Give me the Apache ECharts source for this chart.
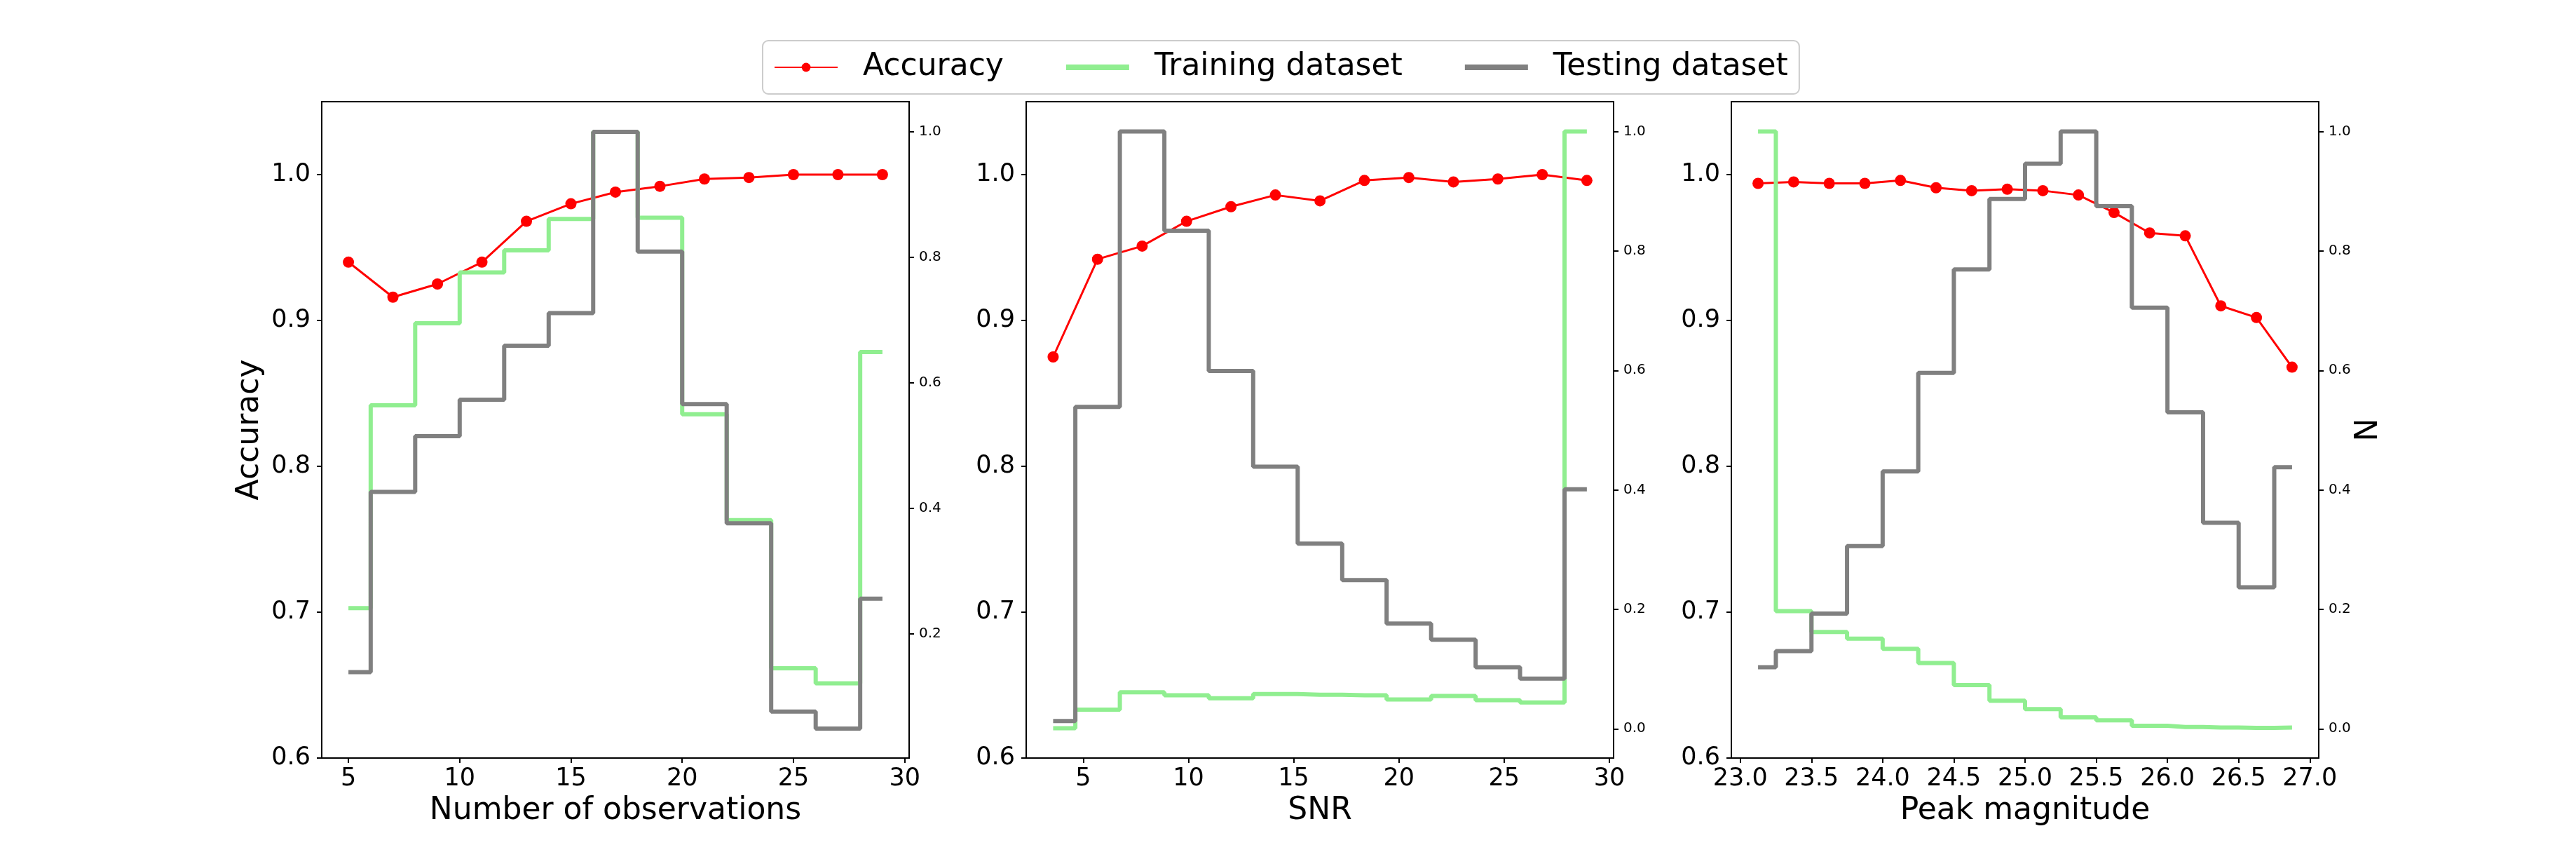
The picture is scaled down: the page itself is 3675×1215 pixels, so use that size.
<!DOCTYPE html>
<html>
<head>
<meta charset="utf-8">
<title>Accuracy vs observations / SNR / magnitude</title>
<script src="https://cdn.jsdelivr.net/npm/echarts@6.0.0/dist/echarts.min.js"></script>
<style>
	html,body{margin:0;padding:0;background:#fff;}
	#main{width:3675px;height:1215px;}
</style>
</head>
<body>
<div id="main"></div>
<script>
// panel 1 - number of observations
var obsX     = [5, 7, 9, 11, 13, 15, 17, 19, 21, 23, 25, 27, 29];
var obsAcc   = [0.940, 0.916, 0.925, 0.940, 0.968, 0.980, 0.988, 0.992, 0.997, 0.998, 1.000, 1.000, 1.000];
var obsTrain = [0.241, 0.564, 0.695, 0.776, 0.811, 0.861, 1.000, 0.863, 0.550, 0.381, 0.145, 0.121, 0.649];
var obsTest  = [0.139, 0.426, 0.515, 0.573, 0.659, 0.711, 1.000, 0.809, 0.566, 0.376, 0.076, 0.049, 0.256];
var obsTicks = [5, 10, 15, 20, 25, 30];

// panel 2 - SNR
var snrX     = [3.57, 5.68, 7.80, 9.91, 12.02, 14.13, 16.25, 18.36, 20.47, 22.59, 24.70, 26.81, 28.93];
var snrAcc   = [0.875, 0.942, 0.951, 0.968, 0.978, 0.986, 0.982, 0.996, 0.998, 0.995, 0.997, 1.000, 0.996];
var snrTrain = [0.001, 0.032, 0.061, 0.056, 0.051, 0.058, 0.057, 0.056, 0.049, 0.055, 0.048, 0.044, 1.000];
var snrTest  = [0.013, 0.539, 1.000, 0.834, 0.599, 0.439, 0.310, 0.249, 0.176, 0.149, 0.103, 0.084, 0.401];
var snrTicks = [5, 10, 15, 20, 25, 30];

// panel 3 - peak magnitude
var magX     = [23.125, 23.375, 23.625, 23.875, 24.125, 24.375, 24.625, 24.875, 25.125, 25.375, 25.625, 25.875, 26.125, 26.375, 26.625, 26.875];
var magAcc   = [0.994, 0.995, 0.994, 0.994, 0.996, 0.991, 0.989, 0.990, 0.989, 0.986, 0.974, 0.960, 0.958, 0.910, 0.902, 0.868];
var magTrain = [1.000, 0.197, 0.162, 0.151, 0.134, 0.110, 0.073, 0.047, 0.033, 0.019, 0.014, 0.005, 0.003, 0.002, 0.0015, 0.002];
var magTest  = [0.103, 0.130, 0.193, 0.306, 0.431, 0.596, 0.769, 0.887, 0.946, 1.000, 0.875, 0.705, 0.530, 0.345, 0.237, 0.438];
var magTicks = [23.0, 23.5, 24.0, 24.5, 25.0, 25.5, 26.0, 26.5, 27.0];

var accTicks = [0.6, 0.7, 0.8, 0.9, 1.0];
var nTicks   = [0.0, 0.2, 0.4, 0.6, 0.8, 1.0];

// tiny helper, no jQuery here
var $ = {
	extend:function(a, b){
		for(var k in b){ a[k] = b[k]; }
		return a;
	}
};

var Chart = {
	font:'DejaVu Sans',
	panels:[
		{x:obsX, acc:obsAcc, train:obsTrain, test:obsTest, ticks:obsTicks, name:'Number of observations',
		 left:459, xmin:3.8, xmax:30.2, nmin:0.002, nmax:1.048, fmt:0},
		{x:snrX, acc:snrAcc, train:snrTrain, test:snrTest, ticks:snrTicks, name:'SNR',
		 left:1464, xmin:2.29, xmax:30.2, nmin:-0.049, nmax:1.05, fmt:0},
		{x:magX, acc:magAcc, train:magTrain, test:magTest, ticks:magTicks, name:'Peak magnitude',
		 left:2470, xmin:22.9375, xmax:27.0625, nmin:-0.049, nmax:1.05, fmt:1}
	],
	init:function(){
		var myChart = echarts.init(document.getElementById('main'));
		myChart.setOption(this.buildOption());
	},
	pairs:function(xs, ys){
		var out = [];
		for(var i=0;i<xs.length;i++){
			out.push([xs[i], ys[i]]);
		}
		return out;
	},
	buildOption:function(){
		var that = this;
		var grids = [], xAxes = [], yAxes = [], series = [];
		var tickStyle = {show:true, inside:false, length:7, lineStyle:{color:'#000', width:2}};

		this.panels.forEach(function(p, i){
			grids.push({
				left:p.left, top:145, width:838, height:936,
				show:true, borderColor:'#000', borderWidth:2, backgroundColor:'transparent'
			});
			xAxes.push({
				type:'value', gridIndex:i, min:p.xmin, max:p.xmax,
				name:p.name, nameLocation:'middle', nameGap:54,
				nameTextStyle:{fontSize:44, color:'#000', fontFamily:that.font},
				axisLine:{show:true, onZero:false, lineStyle:{color:'#000', width:2}},
				axisTick:$.extend({customValues:p.ticks}, tickStyle),
				axisLabel:{
					customValues:p.ticks, margin:12, fontSize:35, color:'#000', fontFamily:that.font,
					formatter:function(v){ return v.toFixed(p.fmt); }
				},
				splitLine:{show:false}
			});
			// left: accuracy
			yAxes.push({
				type:'value', gridIndex:i, position:'left', min:0.6, max:1.05,
				name: i === 0 ? 'Accuracy' : '', nameLocation:'middle', nameGap:80, nameRotate:90,
				nameTextStyle:{fontSize:44, color:'#000', fontFamily:that.font},
				axisLine:{show:true, onZero:false, lineStyle:{color:'#000', width:2}},
				axisTick:$.extend({customValues:accTicks}, tickStyle),
				axisLabel:{
					customValues:accTicks, margin:16, fontSize:35, color:'#000', fontFamily:that.font,
					formatter:function(v){ return v.toFixed(1); }
				},
				splitLine:{show:false}
			});
			// right: normalised N
			yAxes.push({
				type:'value', gridIndex:i, position:'right', min:p.nmin, max:p.nmax,
				name: i === 2 ? 'N' : '', nameLocation:'middle', nameGap:48, nameRotate:90,
				nameTextStyle:{fontSize:44, color:'#000', fontFamily:that.font},
				axisLine:{show:true, onZero:false, lineStyle:{color:'#000', width:2}},
				axisTick:$.extend({customValues:nTicks}, tickStyle),
				axisLabel:{
					customValues:nTicks, margin:14, fontSize:20, color:'#000', fontFamily:that.font,
					formatter:function(v){ return v.toFixed(1); }
				},
				splitLine:{show:false}
			});

			series.push({
				name:'Accuracy', type:'line', xAxisIndex:i, yAxisIndex:2*i,
				data:that.pairs(p.x, p.acc),
				symbol:'circle', symbolSize:16, z:2,
				itemStyle:{color:'#ff0000'},
				lineStyle:{color:'#ff0000', width:3}
			});
			series.push({
				name:'Training dataset', type:'line', step:'middle', xAxisIndex:i, yAxisIndex:2*i+1,
				data:that.pairs(p.x, p.train),
				symbol:'none', z:3,
				itemStyle:{color:'#90ee90'},
				lineStyle:{color:'#90ee90', width:6}
			});
			series.push({
				name:'Testing dataset', type:'line', step:'middle', xAxisIndex:i, yAxisIndex:2*i+1,
				data:that.pairs(p.x, p.test),
				symbol:'none', z:4,
				itemStyle:{color:'#808080'},
				lineStyle:{color:'#808080', width:6}
			});
		});

		return {
			animation:false,
			backgroundColor:'#fff',
			textStyle:{fontFamily:that.font},
			legend:{
				data:[
					{name:'Accuracy'},
					{name:'Training dataset', itemStyle:{opacity:0}, lineStyle:{width:8}},
					{name:'Testing dataset', itemStyle:{opacity:0}, lineStyle:{width:8}}
				],
				left:1088, top:58,
				padding:[16, 16],
				itemGap:85, itemWidth:90, itemHeight:16,
				borderColor:'#cccccc', borderWidth:2, borderRadius:8,
				backgroundColor:'#fff',
				textStyle:{fontSize:44, color:'#000', fontFamily:that.font, padding:[0, 0, 0, 31]}
			},
			grid:grids,
			xAxis:xAxes,
			yAxis:yAxes,
			series:series
		};
	}
};

Chart.init();
</script>
</body>
</html>
